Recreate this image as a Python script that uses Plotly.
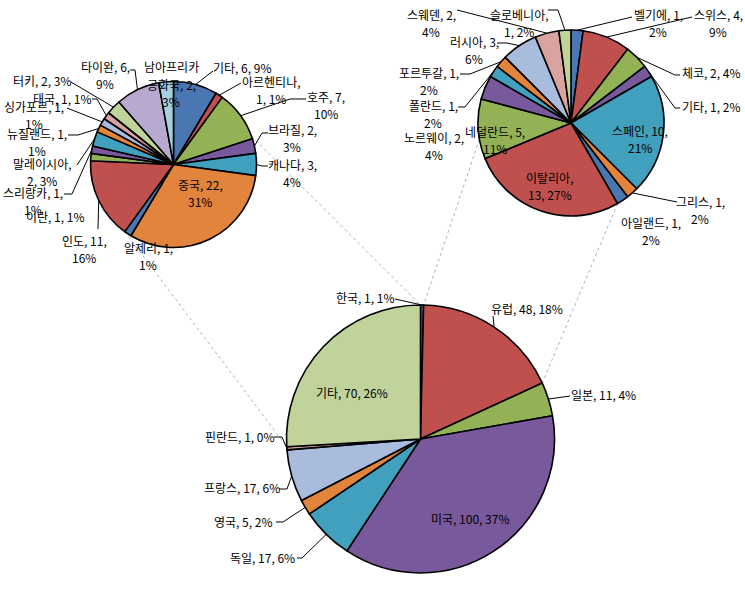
import math
import plotly.graph_objects as go

W, H = 745, 609

# ---------------- data ----------------
main_labels = ["한국", "유럽", "일본", "미국", "독일", "영국", "프랑스", "핀란드", "기타"]
main_values = [1, 48, 11, 100, 17, 5, 17, 1, 70]
main_pcts = [1, 18, 4, 37, 6, 2, 6, 0, 26]

other_labels = ["기타", "아르헨티나", "호주", "브라질", "캐나다", "중국", "알제리", "인도", "이란",
                "스리랑카", "말레이시아", "뉴질랜드", "싱가포르", "태국", "터키", "타이완", "남아프리카\n공화국"]
other_values = [6, 1, 7, 2, 3, 22, 1, 11, 1, 1, 2, 1, 1, 1, 2, 6, 2]
other_pcts = [9, 1, 10, 3, 4, 31, 1, 16, 1, 1, 3, 1, 1, 1, 3, 9, 3]

europe_labels = ["벨기에", "스위스", "체코", "기타", "스페인", "그리스", "아일랜드", "이탈리아",
                 "네덜란드", "노르웨이", "폴란드", "포르투갈", "러시아", "스웨덴", "슬로베니아"]
europe_values = [1, 4, 2, 1, 10, 1, 1, 13, 5, 2, 1, 1, 3, 2, 1]
europe_pcts = [2, 9, 4, 2, 21, 2, 2, 27, 11, 4, 2, 2, 6, 4, 2]

# ---------------- style ----------------
BLUE, RED, GREEN, PURPLE, AQUA, ORANGE = "#4A76B2", "#C0504D", "#92B255", "#77599C", "#41A0BE", "#E2843C"
LBLUE, PINK, LGREEN, LAV, LAQUA = "#A9BCDD", "#D9A3A2", "#BFD39B", "#B8A9CF", "#A7D0DE"
main_colors = [BLUE, RED, GREEN, PURPLE, AQUA, ORANGE, LBLUE, PINK, LGREEN]
other_colors = [BLUE, RED, GREEN, PURPLE, AQUA, ORANGE, BLUE, RED, GREEN, PURPLE, AQUA, ORANGE,
                LBLUE, PINK, LGREEN, LAV, LAQUA]
europe_colors = [BLUE, RED, GREEN, PURPLE, AQUA, ORANGE, BLUE, RED, GREEN, PURPLE, AQUA, ORANGE,
                 LBLUE, PINK, LGREEN]

FONT = "Noto Sans CJK KR"
FS = 12
LINE_H = 17.5

# pie geometry in pixels: (cx, cy, r)
MAIN = (420.5, 439.0, 134.0)
LEFT = (173.5, 164.5, 83.0)
RIGHT = (571.0, 123.0, 93.0)

# label layout: x, y (px, block center), format id, leader polyline anchor points (px)
# fmt 0: "A, v, p%"   1: "A, v,<br>p%"   2: "A,<br>v, p%"
main_lay = [
    (365, 297, 0, [(395, 299)]),
    (527, 308, 0, [(493, 316)]),
    (603, 394, 0, [(570, 396)]),
    (470, 518, 0, None),
    (262, 557, 0, [(297, 558), (302, 558)]),
    (243, 521, 0, [(276, 522), (283, 522)]),
    (242, 487, 0, [(279, 489), (287, 489)]),
    (240, 436, 0, [(274, 437), (282, 437)]),
    (352, 392, 0, None),
]
other_lay = [
    (242, 68, 0, [(213, 71)]),
    (271, 90, 2, [(241, 83)]),
    (326, 105, 1, [(306, 99), (290, 99)]),
    (292, 138, 1, [(268, 133), (262, 133)]),
    (292, 173, 1, [(268, 166), (262, 166)]),
    (200, 193, 1, None),
    (148, 256, 1, None),
    (84, 249, 1, [(98, 229)]),
    (56, 216, 0, None),
    (33, 201, 1, [(64, 194), (72, 194)]),
    (42, 172, 2, [(77, 165)]),
    (37, 142, 1, [(68, 135), (78, 135)]),
    (34, 115, 1, [(67, 108)]),
    (62, 98, 0, [(92, 99), (97, 99)]),
    (42, 81, 0, [(71, 82)]),
    (105, 75, 1, [(130, 70), (135, 70)]),
    (171, 84, 1, None),
]
europe_lay = [
    (658, 23, 1, [(632, 17)]),
    (718, 23, 1, [(692, 17)]),
    (711, 73, 0, [(680, 75), (675, 75)]),
    (711, 106, 0, [(680, 108), (675, 108)]),
    (640, 139, 1, None),
    (700, 210, 1, [(677, 202)]),
    (651, 231, 1, None),
    (550, 186, 2, None),
    (495, 140, 1, None),
    (434, 146, 1, None),
    (433, 114, 1, [(458, 107), (465, 107)]),
    (429, 81, 1, [(460, 74), (470, 74)]),
    (474, 50, 1, [(497, 43), (507, 43)]),
    (431, 23, 1, [(457, 10)]),
    (519, 23, 2, [(548, 10), (558, 10)]),
]


def px(x, y):
    return x / W, 1 - y / H


def edge_point(geom, angle_deg):
    cx, cy, r = geom
    a = math.radians(angle_deg)
    return cx + r * math.sin(a), cy - r * math.cos(a)


def mid_angles(values):
    tot = sum(values)
    out, cum = [], 0
    for v in values:
        out.append((cum + v / 2) / tot * 360)
        cum += v
    return out


def bound_angle(values, k):
    return sum(values[:k]) / sum(values) * 360


def domain(geom):
    cx, cy, r = geom
    return dict(x=[(cx - r) / W, (cx + r) / W], y=[1 - (cy + r) / H, 1 - (cy - r) / H])


fig = go.Figure()
for labels, values, colors, geom in [
    (main_labels, main_values, main_colors, MAIN),
    (other_labels, other_values, other_colors, LEFT),
    (europe_labels, europe_values, europe_colors, RIGHT),
]:
    fig.add_trace(go.Pie(
        labels=[l.replace("\n", "") for l in labels], values=values, sort=False,
        direction="clockwise", rotation=0, textinfo="none", hoverinfo="label+value+percent",
        marker=dict(colors=colors, line=dict(color="black", width=1.6)),
        domain=domain(geom), showlegend=False,
    ))

annotations, shapes = [], []


def fmt_text(label, v, p, f):
    label = label.replace("\n", "<br>")
    if f == 0:
        return f"{label}, {v}, {p}%"
    if f == 1:
        return f"{label}, {v},<br>{p}%"
    return f"{label},<br>{v}, {p}%"


def add_labels(labels, values, pcts, lay, geom):
    mids = mid_angles(values)
    for lab, v, p, (x, y, f, lead), m in zip(labels, values, pcts, lay, mids):
        lines = fmt_text(lab, v, p, f).split("<br>")
        n = len(lines)
        for i, t in enumerate(lines):
            yy = y + (i - (n - 1) / 2) * LINE_H
            ax, ay = px(x, yy)
            annotations.append(dict(x=ax, y=ay, xref="paper", yref="paper", text=t, showarrow=False,
                                    xanchor="center", yanchor="middle",
                                    font=dict(family=FONT, size=FS, color="black")))
        if lead:
            pts = list(lead) + [edge_point(geom, m)]
            path = "M " + " L ".join(f"{px(a, b)[0]:.5f},{px(a, b)[1]:.5f}" for a, b in pts)
            shapes.append(dict(type="path", xref="paper", yref="paper", path=path,
                               line=dict(color="black", width=1), layer="above"))


add_labels(main_labels, main_values, main_pcts, main_lay, MAIN)
add_labels(other_labels, other_values, other_pcts, other_lay, LEFT)
add_labels(europe_labels, europe_values, europe_pcts, europe_lay, RIGHT)

# connector lines between the main pie slices and the breakdown pies
k_other = main_labels.index("기타")
k_eu = main_labels.index("유럽")
connectors = [
    (edge_point(LEFT, 70), edge_point(MAIN, bound_angle(main_values, k_other + 1))),
    (edge_point(LEFT, 216), edge_point(MAIN, bound_angle(main_values, k_other))),
    (edge_point(RIGHT, 260), edge_point(MAIN, bound_angle(main_values, k_eu))),
    (edge_point(RIGHT, 150), edge_point(MAIN, bound_angle(main_values, k_eu + 1))),
]
for (x0, y0), (x1, y1) in connectors:
    a0, b0 = px(x0, y0)
    a1, b1 = px(x1, y1)
    shapes.append(dict(type="line", xref="paper", yref="paper", x0=a0, y0=b0, x1=a1, y1=b1,
                       line=dict(color="#A3B3CE", width=1, dash="dot"), layer="below"))

fig.update_layout(
    width=W, height=H, margin=dict(l=0, r=0, t=0, b=0),
    paper_bgcolor="white", plot_bgcolor="white",
    annotations=annotations, shapes=shapes,
    font=dict(family=FONT, size=FS),
)
fig.write_html("out.html")
